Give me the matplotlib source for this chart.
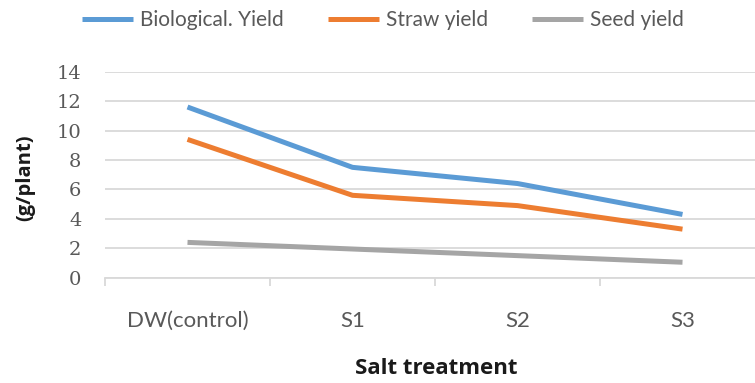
import matplotlib.pyplot as plt
import numpy as np

treatments = ["DW(control)", "S1", "S2", "S3"]
biological_yield = [11.6, 7.5, 6.4, 4.3]
straw_yield = [9.4, 5.6, 4.9, 3.3]
seed_yield = [2.4, 1.95, 1.5, 1.05]
y_ticks = [0, 2, 4, 6, 8, 10, 12, 14]

series = [
    ("Biological. Yield", biological_yield, "#5B9BD5"),
    ("Straw yield", straw_yield, "#ED7D31"),
    ("Seed yield", seed_yield, "#A5A5A5"),
]

fig = plt.figure(figsize=(7.55, 3.83), dpi=100)
# plot area runs a bit past the right edge of the canvas
ax = fig.add_axes([105 / 755, 105.3 / 383, 660 / 755, 206 / 383])

x = np.arange(len(treatments))
for label, vals, color in series:
    ax.plot(x, vals, color=color, linewidth=3.6, label=label,
            solid_capstyle="butt", zorder=3)

ax.set_xlim(-0.5, len(treatments) - 0.5)
ax.set_ylim(0, 14)
ax.set_yticks(y_ticks)
ax.set_yticklabels([str(v) for v in y_ticks])
for lbl in ax.get_yticklabels():
    lbl.set_family("DejaVu Serif")
    lbl.set_fontsize(14)
    lbl.set_color("#595959")
ax.grid(axis="y", color="#D9D9D9", linewidth=1.3, zorder=0)
ax.set_axisbelow(True)

ax.set_xticks(x)
ax.set_xticklabels(treatments)
for lbl in ax.get_xticklabels():
    lbl.set_family("Lato")
    lbl.set_fontsize(16)
    lbl.set_color("#595959")
ax.set_xticks(np.arange(-0.5, len(treatments)), minor=True)
ax.tick_params(axis="x", which="major", length=0, pad=24)
ax.tick_params(axis="x", which="minor", length=6, width=1.3, color="#D9D9D9")
ax.tick_params(axis="y", length=0, pad=17)

for side in ["top", "right", "left"]:
    ax.spines[side].set_visible(False)
ax.spines["bottom"].set_color("#D9D9D9")
ax.spines["bottom"].set_linewidth(1.3)

fig.text(25 / 755, 1 - 178 / 383, "(g/plant)", rotation=90, ha="center",
         va="center", fontsize=14.5, fontweight="bold", family="Open Sans",
         color="#1A1A1A")
fig.text(436 / 755, 1 - 368 / 383, "Salt treatment", ha="center", va="center",
         fontsize=16, fontweight="bold", family="Open Sans", color="#1A1A1A")

leg = fig.legend(loc="center", bbox_to_anchor=(383 / 755, 1 - 20 / 383), ncol=3,
                 frameon=False, handlelength=2.45, handletextpad=0.35,
                 columnspacing=2.1, prop={"family": "Lato", "size": 15})
for t in leg.get_texts():
    t.set_color("#595959")

fig.savefig("out.png", dpi=100)
